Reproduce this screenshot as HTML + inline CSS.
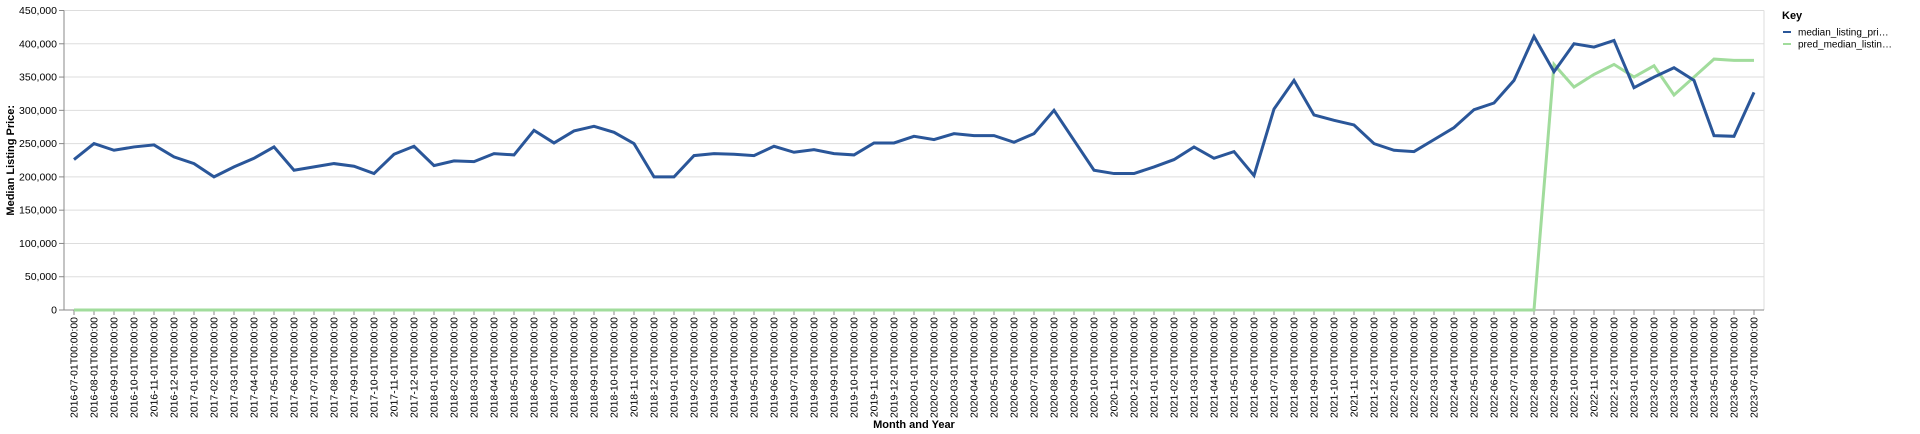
<!DOCTYPE html>
<html><head><meta charset="utf-8"><style>
html,body{margin:0;padding:0;background:#fff;}
svg{display:block;font-family:"Liberation Sans",Arial,sans-serif;}
</style></head><body>
<svg id="chart" width="1920" height="434"></svg>
<script>
const months = [];
for (let y = 2016, m = 7; !(y === 2023 && m === 8); ) {
  months.push(y + '-' + String(m).padStart(2, '0') + '-01T00:00:00');
  m++; if (m > 12) { m = 1; y++; }
}
const actualValues = [226,250,240,245,248,230,220,200,215,228,245,210,215,220,216,205,234,246,217,224,223,235,
  233,270,251,269,276,267,250,200,200,232,235,234,232,246,237,241,235,233,251,251,261,256,265,262,
  262,252,265,300,255,210,205,205,215,226,245,228,238,202,302,345,293,285,278,250,240,238,256,274,
  301,311,345,411,358,400,395,405,334,350,364,345,262,261,327].map(v => v * 1000);
const predValues = [0,0,0,0,0,0,0,0,0,0,0,0,0,0,0,0,0,0,0,0,0,0,0,0,0,0,0,0,0,0,0,0,0,0,0,0,0,0,0,0,0,0,0,0,0,0,
  0,0,0,0,0,0,0,0,0,0,0,0,0,0,0,0,0,0,0,0,0,0,0,0,0,0,0,0,369,335,354,369,350,367,323,350,377,375,375].map(v => v * 1000);
const yTicks = [0,50000,100000,150000,200000,250000,300000,350000,400000,450000];
const seriesNames = ['median_listing_pri…','pred_median_listin…'];

const NS = 'http://www.w3.org/2000/svg';
const svg = document.getElementById('chart');
const L = 64, R = 1764, T = 10.5, B = 310, yMax = 450000;
const band = (R - L) / months.length;
const x = i => L + band * (i + 0.5);
const y = v => B - (v / yMax) * (B - T);
function mk(tag, attrs, parent) {
  const e = document.createElementNS(NS, tag);
  for (const k in attrs) e.setAttribute(k, attrs[k]);
  (parent || svg).appendChild(e);
  return e;
}
// grid
const grid = mk('g', {});


yTicks.forEach(t => {
  const gl = mk('line', {x1: L, x2: R, y1: y(t), y2: y(t), stroke: '#dddddd', 'stroke-width': 1}, grid);
  
  
});
mk('line', {x1: R, x2: R, y1: T, y2: B, stroke: '#dddddd'}, grid);
// y axis
const yAxis = mk('g', {});


mk('line', {x1: L, x2: L, y1: T, y2: B, stroke: '#888'}, yAxis);
yTicks.forEach(t => {
  mk('line', {x1: L - 5, x2: L, y1: y(t), y2: y(t), stroke: '#888'}, yAxis);
  const tx = mk('text', {x: L - 7, y: y(t) + 3.5, 'text-anchor': 'end', 'font-size': 10.5, fill: '#000'}, yAxis);
  tx.textContent = t.toLocaleString('en-US');
  
  
});
const yt = mk('text', {transform: 'translate(14,' + ((T + B) / 2) + ') rotate(-90)', 'text-anchor': 'middle', 'font-size': 11, 'font-weight': 'bold'});
yt.textContent = 'Median Listing Price:';


// x axis
const xAxis = mk('g', {});


mk('line', {x1: L, x2: R, y1: B, y2: B, stroke: '#888'}, xAxis);
months.forEach((mth, i) => {
  mk('line', {x1: x(i), x2: x(i), y1: B, y2: B + 5, stroke: '#888'}, xAxis);
  const tx = mk('text', {transform: 'translate(' + (x(i) + 3.5) + ',' + (B + 7) + ') rotate(-90)', 'text-anchor': 'end', 'font-size': 10.5}, xAxis);
  tx.textContent = mth;
  
  
});
const xt = mk('text', {x: (L + R) / 2, y: 428, 'text-anchor': 'middle', 'font-size': 11, 'font-weight': 'bold'});
xt.textContent = 'Month and Year';


// lines
function line(vals, color, name) {
  const p = mk('path', {d: vals.map((v, i) => (i ? 'L' : 'M') + x(i) + ',' + y(v)).join(''), fill: 'none', stroke: color, 'stroke-width': 3, 'stroke-linejoin': 'miter'});
  
  
}
line(predValues, '#a1dc9c', 'pred-median-listing-price-line');
line(actualValues, '#2a5699', 'median-listing-price-line');
// legend
const lg = mk('g', {});


const kt = mk('text', {x: 1782, y: 19, 'font-size': 11, 'font-weight': 'bold'}, lg);
kt.textContent = 'Key';


['#2a5699', '#a1dc9c'].forEach((c, i) => {
  const g = mk('g', {}, lg);
  
  
  const yy = 32 + i * 12;
  mk('line', {x1: 1783, x2: 1791, y1: yy, y2: yy, stroke: c, 'stroke-width': 2}, g);
  const t = mk('text', {x: 1798, y: yy + 3.5, 'font-size': 10}, g);
  t.textContent = seriesNames[i];
});
</script>
</body></html>
